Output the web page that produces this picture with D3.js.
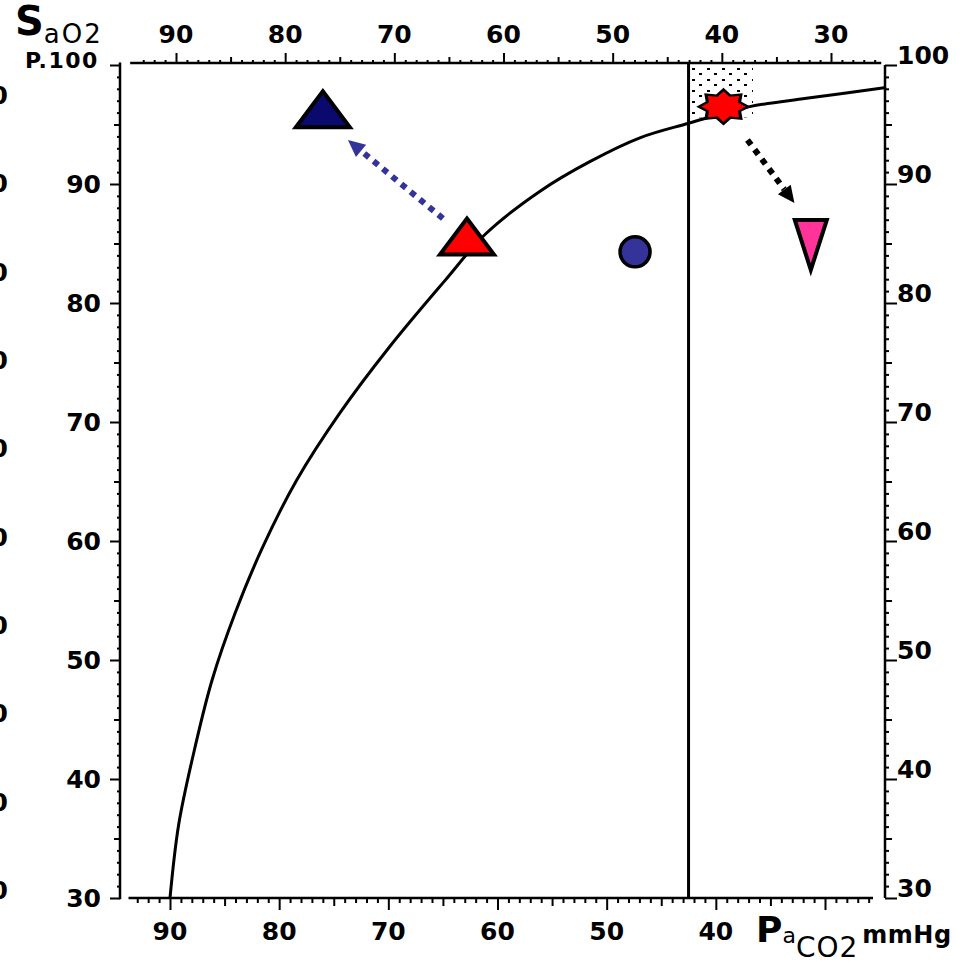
<!DOCTYPE html>
<meta charset="utf-8">
<style>
body {
  margin: 0;
  background: #fff;
}
svg {
  display: block;
  font-family: "DejaVu Sans", sans-serif;
}
.axisline {
  stroke: #000;
  stroke-width: 2.5px;
  fill: none;
}
.tick line {
  stroke: #000;
  stroke-width: 2px;
}
.ticklabel {
  font-size: 25px;
  font-weight: bold;
  fill: #000;
}
.curve {
  fill: none;
  stroke: #000;
  stroke-width: 3px;
}
</style>
<body>
<div id="chart"></div>
<script src="https://cdn.jsdelivr.net/npm/d3@7"></script>
<script>
// dissociation curve (PaCO2 mmHg, SaO2 %)
var curvePaco2 = [90, 89.2, 87.7, 86.15, 84.05, 81.5, 78.4, 74.4, 69.9, 64.8, 61.1, 56.1, 51.5, 46.9, 42.5, 36.9, 31.7, 24.4];
var curveSao2  = [30, 36.2, 42.7, 48.3, 53.9, 59.5, 65.1, 70.8, 76.3, 81.9, 85.8, 89.4, 91.9, 93.9, 95.1, 96.5, 97.2, 98.1];

// tick labels
var bottomLabels = [90, 80, 70, 60, 50, 40];
var topLabels = [90, 80, 70, 60, 50, 40, 30];
var leftLabels = [90, 80, 70, 60, 50, 40, 30];
var rightLabels = [100, 90, 80, 70, 60, 50, 40, 30];
var edgeLabels = [100, 90, 80, 70, 60, 50, 40, 30, 20, 10]; // cut off at the left edge

// markers
var markerNames = ["navyTriangle", "redTriangle", "blueCircle", "redStar", "pinkTriangle"];
var markerPaco2 = [76.0, 62.8, 47.4, 39.3, 31.3];
var markerSao2  = [96.2, 85.5, 84.3, 96.5, 85.3];

// arrows: [from, to]
var arrowNames = ["blue", "black"];
var arrowPaco2 = [[65.0, 73.7], [37.1, 32.8]];
var arrowSao2  = [[87.1, 93.7], [93.7, 88.4]];

// vertical reference line and stippled box
var refPaco2 = 42.5;
var stipplePaco2 = [42.5, 36.6];
var stippleSao2 = [100, 95.6];

var W = 965, H = 964;

var x = d3.scaleLinear().domain([90, 30]).range([170, 825]);
var xTop = d3.scaleLinear().domain([90, 30]).range([176, 831]);
var y = d3.scaleLinear().domain([30, 100]).range([898, 65]);
var yEdge = d3.scaleLinear().domain([100, 10]).range([95, 890]);

var svg = d3.select("#chart").append("svg")
    .attr("width", W)
    .attr("height", H);

// stipple pattern
var pat = svg.append("defs").append("pattern")
    .attr("id", "stipple")
    .attr("patternUnits", "userSpaceOnUse")
    .attr("width", 15).attr("height", 11);
pat.append("rect").attr("x", 2).attr("y", 2).attr("width", 3).attr("height", 2).attr("fill", "#000");
pat.append("rect").attr("x", 9).attr("y", 7).attr("width", 3).attr("height", 2).attr("fill", "#000");

svg.append("rect")
    .attr("x", x(stipplePaco2[0]))
    .attr("y", y(stippleSao2[0]))
    .attr("width", x(stipplePaco2[1]) - x(stipplePaco2[0]))
    .attr("height", y(stippleSao2[1]) - y(stippleSao2[0]))
    .attr("fill", "url(#stipple)");

// ---- axes ----
var minorX = d3.range(26, 94);
var minorY = d3.range(30, 101);

// bottom
svg.append("g")
    .attr("transform", "translate(0,898)")
    .call(d3.axisBottom(x).tickValues(minorX)
      .tickSize(0).tickFormat(""))
  .call(function(g) {
    g.select(".domain").remove();
    g.selectAll(".tick line").attr("y2", function(d) { return d % 10 === 0 ? 12 : (d % 5 === 0 ? 8 : 5); });
  });
svg.append("line").attr("class", "axisline")
    .attr("x1", x(93.8)).attr("x2", x(25.6)).attr("y1", 898).attr("y2", 898);
svg.selectAll(".blabel").data(bottomLabels).enter().append("text")
    .attr("class", "ticklabel")
    .attr("x", function(d) { return x(d); })
    .attr("y", 940)
    .attr("text-anchor", "middle")
    .text(function(d) { return d; });

// top
svg.append("g")
    .attr("transform", "translate(0,63)")
    .call(d3.axisTop(xTop).tickValues(minorX).tickSize(0).tickFormat(""))
  .call(function(g) {
    g.select(".domain").remove();
    g.selectAll(".tick line").attr("y2", function(d) { return d % 10 === 0 ? -10 : (d % 5 === 0 ? -6 : -3); });
  });
svg.append("line").attr("class", "axisline")
    .attr("x1", xTop(94.2)).attr("x2", xTop(25.4)).attr("y1", 63).attr("y2", 63);
svg.selectAll(".tlabel").data(topLabels).enter().append("text")
    .attr("class", "ticklabel")
    .attr("x", function(d) { return xTop(d); })
    .attr("y", 43)
    .attr("text-anchor", "middle")
    .text(function(d) { return d; });

// left
svg.append("g")
    .attr("transform", "translate(120,0)")
    .call(d3.axisLeft(y).tickValues(minorY).tickSize(0).tickFormat(""))
  .call(function(g) {
    g.select(".domain").remove();
    g.selectAll(".tick line").attr("x2", function(d) { return d % 10 === 0 ? -10 : (d % 5 === 0 ? -6 : -3); });
  });
svg.append("line").attr("class", "axisline")
    .attr("x1", 120).attr("x2", 120).attr("y1", y(100.2)).attr("y2", y(29.9));
svg.selectAll(".llabel").data(leftLabels).enter().append("text")
    .attr("class", "ticklabel")
    .attr("x", 101)
    .attr("y", function(d) { return y(d); })
    .attr("dy", "0.36em")
    .attr("text-anchor", "end")
    .text(function(d) { return d; });

// right
svg.append("g")
    .attr("transform", "translate(885,0)")
    .call(d3.axisRight(y).tickValues(minorY).tickSize(0).tickFormat(""))
  .call(function(g) {
    g.select(".domain").remove();
    g.selectAll(".tick line").attr("x2", function(d) { return d % 10 === 0 ? 12 : (d % 5 === 0 ? 7 : 4); });
  });
svg.append("line").attr("class", "axisline")
    .attr("x1", 885).attr("x2", 885).attr("y1", y(100)).attr("y2", y(30));
svg.selectAll(".rlabel").data(rightLabels).enter().append("text")
    .attr("class", "ticklabel")
    .attr("x", 897)
    .attr("y", function(d) { return y(d) - 10; })
    .attr("dy", "0.36em")
    .text(function(d) { return d; });

// labels cut by the left edge (as in the scan)
svg.selectAll(".elabel").data(edgeLabels).enter().append("text")
    .attr("class", "ticklabel")
    .attr("x", 8)
    .attr("y", function(d) { return yEdge(d); })
    .attr("dy", "0.36em")
    .attr("text-anchor", "end")
    .text(function(d) { return d; });

// ---- axis titles ----
var t1 = svg.append("text").attr("x", 15).attr("y", 35);
t1.append("tspan").attr("font-size", 40).attr("font-weight", "bold").text("S");
t1.append("tspan").attr("font-size", 26).attr("dy", 8).attr("letter-spacing", 2).text("aO2");

svg.append("text")
    .attr("x", 25).attr("y", 68)
    .attr("font-size", 22).attr("font-weight", "bold").attr("letter-spacing", 1.5)
    .text("P.100");

var t2 = svg.append("text").attr("x", 756).attr("y", 942);
t2.append("tspan").attr("font-size", 36).attr("font-weight", "bold").text("P");
t2.append("tspan").attr("font-size", 22).attr("dy", 1).text("a");
t2.append("tspan").attr("font-size", 28).attr("dy", 14).attr("letter-spacing", 1).text("CO2");
t2.append("tspan").attr("font-size", 24).attr("font-weight", "bold").attr("dy", -14).attr("dx", 4)
    .attr("letter-spacing", 0.5).text("mmHg");

// ---- reference line and curve ----
svg.append("line")
    .attr("x1", x(refPaco2)).attr("x2", x(refPaco2))
    .attr("y1", y(100.2)).attr("y2", y(30))
    .attr("stroke", "#000").attr("stroke-width", 3);

var curveData = curvePaco2.map(function(p, i) { return [p, curveSao2[i]]; });
var line = d3.line()
    .x(function(d) { return x(d[0]); })
    .y(function(d) { return y(d[1]); })
    .curve(d3.curveCatmullRom.alpha(0.5));
svg.append("path")
    .datum(curveData)
    .attr("class", "curve")
    .attr("d", line);

// ---- arrows ----
var arrowColor = { blue: "#333399", black: "#000" };
arrowNames.forEach(function(name, i) {
  var x0 = x(arrowPaco2[i][0]), y0 = y(arrowSao2[i][0]);
  var x1 = x(arrowPaco2[i][1]), y1 = y(arrowSao2[i][1]);
  var dx = x1 - x0, dy = y1 - y0, len = Math.sqrt(dx * dx + dy * dy);
  var ux = dx / len, uy = dy / len;
  var head = 17, half = 8;
  var bx = x1 - ux * head, by = y1 - uy * head;
  svg.append("line")
      .attr("x1", x0).attr("y1", y0).attr("x2", bx).attr("y2", by)
      .attr("stroke", arrowColor[name]).attr("stroke-width", 6)
      .attr("stroke-dasharray", "6,6");
  svg.append("path")
      .attr("d", "M" + x1 + "," + y1 +
                 "L" + (bx - uy * half) + "," + (by + ux * half) +
                 "L" + (bx + uy * half) + "," + (by - ux * half) + "Z")
      .attr("fill", arrowColor[name]);
});

// ---- markers ----
function star(n, r1, r2) {
  var pts = [];
  for (var k = 0; k < 2 * n; k++) {
    var a = Math.PI * k / n, r = k % 2 === 0 ? r1 : r2;
    pts.push([Math.cos(a) * r, Math.sin(a) * r]);
  }
  return "M" + pts.join("L") + "Z";
}
var mk = svg.selectAll(".marker").data(markerNames).enter().append("g")
    .attr("class", "marker")
    .attr("transform", function(d, i) { return "translate(" + x(markerPaco2[i]) + "," + y(markerSao2[i]) + ")"; });

mk.each(function(name) {
  var g = d3.select(this);
  if (name === "navyTriangle" || name === "redTriangle") {
    g.append("path")
        .attr("d", "M0,-19L27,17L-27,17Z")
        .attr("fill", name === "navyTriangle" ? "#0a0a6e" : "#ff0000")
        .attr("stroke", "#000").attr("stroke-width", 4).attr("stroke-linejoin", "miter");
  } else if (name === "blueCircle") {
    g.append("circle").attr("r", 15)
        .attr("fill", "#333399").attr("stroke", "#000").attr("stroke-width", 3.5);
  } else if (name === "redStar") {
    g.append("path")
        .attr("d", star(8, 17, 12))
        .attr("transform", "scale(1.45,1)")
        .attr("fill", "#ff0000").attr("stroke", "#000").attr("stroke-width", 2.2);
  } else {
    g.append("path")
        .attr("d", "M-16,-20L16,-20L0,30Z")
        .attr("fill", "#ff3399").attr("stroke", "#000").attr("stroke-width", 4);
  }
});
</script>
</body>
